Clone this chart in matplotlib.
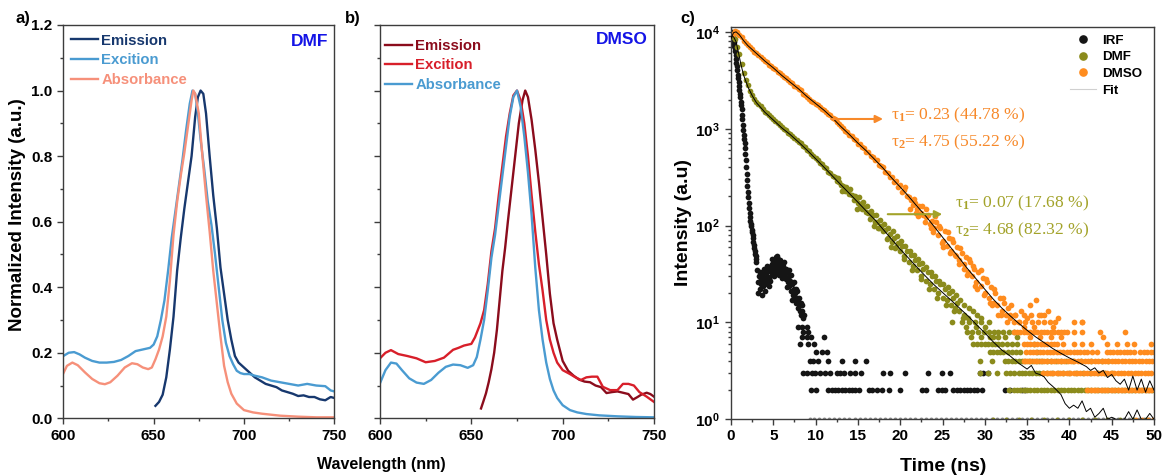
import numpy as np
import matplotlib.pyplot as plt
from matplotlib.ticker import MultipleLocator, LogLocator, NullFormatter
from matplotlib.lines import Line2D

plt.rcParams.update({
    'font.family': ['Liberation Sans', 'DejaVu Sans'],
    'font.weight': 'bold',
    'mathtext.fontset': 'custom',
    'mathtext.rm': 'Liberation Serif',
    'mathtext.it': 'Liberation Serif:italic',
    'mathtext.bf': 'Liberation Sans:bold',
    'axes.linewidth': 1.0,
})

###DATA###
# a) DMF spectra
wl_dmf_em = [651, 653, 655, 657, 659, 661, 663, 665, 667, 669, 671, 673, 674.5, 676, 677.5, 679, 681, 683, 685, 687,
             689, 691, 693, 695, 697, 700, 703, 706, 709, 712, 715, 718, 721, 724, 727, 730, 733, 736, 739, 742,
             745, 748, 750]
dmf_em = [0.038, 0.05, 0.072, 0.125, 0.21, 0.31, 0.45, 0.55, 0.64, 0.72, 0.80, 0.92, 0.98, 1.0, 0.99, 0.93, 0.80, 0.68, 0.58, 0.46,
          0.38, 0.30, 0.24, 0.19, 0.17, 0.155, 0.14, 0.125, 0.115, 0.105, 0.10, 0.095, 0.085, 0.08, 0.075, 0.068, 0.07, 0.065, 0.065, 0.058,
          0.055, 0.065, 0.062]
wl_dmf_ex = [600, 603, 606, 609, 612, 616, 620, 624, 628, 632, 636, 640, 644, 648, 650, 652, 654, 656, 658, 660,
             662, 664, 666, 668, 670, 671.5, 673, 674.5, 676, 678, 680, 682, 684, 686, 688, 690, 692, 694, 696, 698,
             700, 703, 706, 710, 715, 720, 725, 730, 735, 740, 745, 748, 750]
dmf_ex = [0.19, 0.20, 0.202, 0.195, 0.185, 0.175, 0.17, 0.17, 0.172, 0.178, 0.19, 0.205, 0.21, 0.215, 0.225, 0.25, 0.30, 0.36, 0.45, 0.55,
          0.63, 0.71, 0.79, 0.88, 0.96, 1.0, 0.99, 0.93, 0.85, 0.76, 0.66, 0.59, 0.50, 0.40, 0.30, 0.23, 0.19, 0.165, 0.145, 0.138,
          0.135, 0.135, 0.13, 0.125, 0.115, 0.11, 0.105, 0.10, 0.105, 0.10, 0.098, 0.085, 0.082]
wl_dmf_ab = [600, 602, 605, 608, 612, 616, 620, 623, 626, 630, 634, 638, 641, 644, 647, 649, 651, 653, 655, 657,
             659, 661, 663, 665, 667, 669, 671, 672, 673, 675, 677, 679, 681, 683, 685, 687, 689, 691, 693, 696,
             700, 705, 710, 720, 730, 740, 750]
dmf_ab = [0.137, 0.16, 0.17, 0.162, 0.14, 0.12, 0.107, 0.104, 0.11, 0.13, 0.155, 0.168, 0.165, 0.155, 0.15, 0.155, 0.18, 0.21, 0.25, 0.31,
          0.42, 0.56, 0.66, 0.74, 0.81, 0.89, 0.97, 1.0, 0.99, 0.93, 0.80, 0.68, 0.57, 0.45, 0.35, 0.25, 0.16, 0.11, 0.075, 0.045,
          0.025, 0.018, 0.014, 0.008, 0.005, 0.003, 0.003]

# b) DMSO spectra
wl_dmso_em = [655.3, 656.5, 658, 659.5, 661, 662.5, 664, 665.5, 667, 668.5, 670, 672, 674, 676, 678, 679.5, 681, 683, 685, 687,
              689, 691, 693, 695, 697, 700, 703, 706, 709, 712, 715, 718, 721, 724, 727, 730, 733, 736, 738.5, 741,
              743, 746, 748, 750]
dmso_em = [0.03, 0.05, 0.076, 0.11, 0.15, 0.20, 0.27, 0.36, 0.45, 0.52, 0.60, 0.70, 0.80, 0.90, 0.97, 1.0, 0.98, 0.91, 0.82, 0.72,
           0.61, 0.50, 0.38, 0.29, 0.24, 0.175, 0.145, 0.13, 0.118, 0.112, 0.11, 0.10, 0.095, 0.077, 0.08, 0.082, 0.078, 0.074, 0.057, 0.065,
           0.072, 0.078, 0.074, 0.066]
wl_dmso_ex = [600, 603, 606, 610, 615, 620, 625, 630, 635, 640, 643, 646, 650, 652, 655, 657, 659, 661, 663, 665,
              667, 669, 671, 673, 675, 677, 679, 681, 683, 685, 687, 689, 691, 693, 695, 697, 700, 704, 707, 710,
              713, 716, 719, 722, 726, 730, 733, 736, 739, 742, 746, 750]
dmso_ex = [0.183, 0.2, 0.208, 0.196, 0.19, 0.183, 0.171, 0.175, 0.185, 0.209, 0.215, 0.222, 0.227, 0.247, 0.29, 0.33, 0.41, 0.51, 0.58, 0.68,
           0.77, 0.86, 0.93, 0.985, 1.0, 0.97, 0.90, 0.80, 0.68, 0.57, 0.47, 0.39, 0.30, 0.24, 0.20, 0.17, 0.147, 0.135, 0.125, 0.117,
           0.125, 0.127, 0.127, 0.096, 0.086, 0.086, 0.105, 0.105, 0.10, 0.08, 0.066, 0.05]
wl_dmso_ab = [600, 603, 606, 609, 612, 616, 620, 624, 628, 632, 636, 640, 644, 648, 651, 653, 655, 657, 659, 661,
              663, 665, 667, 669, 671, 673, 675, 677, 679, 681, 683, 685, 687, 689, 691, 693, 695, 697, 700, 704,
              708, 713, 720, 730, 740, 750]
dmso_ab = [0.107, 0.147, 0.17, 0.167, 0.147, 0.122, 0.109, 0.105, 0.117, 0.139, 0.157, 0.164, 0.162, 0.154, 0.162, 0.187, 0.24, 0.30, 0.39, 0.49,
           0.56, 0.65, 0.74, 0.83, 0.92, 0.98, 1.0, 0.95, 0.86, 0.75, 0.62, 0.46, 0.33, 0.24, 0.17, 0.12, 0.085, 0.062, 0.04, 0.025,
           0.018, 0.013, 0.009, 0.006, 0.004, 0.003]

# c) decays - IRF
irf_t = [0.0, 0.05, 0.1, 0.15, 0.2, 0.25, 0.3, 0.35, 0.4, 0.45, 0.5, 0.55, 0.6, 0.65, 0.7, 0.75, 0.8, 0.85, 0.9, 0.95,
         1.0, 1.05, 1.1, 1.15, 1.2, 1.25, 1.3, 1.35, 1.4, 1.45, 1.5, 1.55, 1.6, 1.65, 1.7, 1.75, 1.8, 1.85, 1.9, 1.95,
         2.0, 2.05, 2.1, 2.15, 2.2, 2.25, 2.3, 2.35, 2.4, 2.45, 2.5, 2.55, 2.6, 2.65, 2.7, 2.75, 2.8, 2.85, 2.9, 2.95, 3.0]
irf_n = [7900, 9300, 10000, 9800, 9300, 8900, 8300, 7800, 7200, 6800, 6300, 5800, 5200, 4800, 4400, 4000, 3600, 3300, 3000, 2750,
         2500, 2300, 2100, 1900, 1750, 1600, 1400, 1250, 1100, 980, 870, 790, 710, 630, 550, 470, 400, 340, 295, 257,
         224, 195, 170, 151, 135, 123, 112, 105, 98, 91, 85, 79, 74, 68, 63, 59, 55, 51, 48, 45, 42]
irf_bump_t = [3.1, 3.2, 3.3, 3.4, 3.5, 3.6, 3.7, 3.8, 3.9, 4.0, 4.1, 4.2, 4.3, 4.4, 4.5, 4.6, 4.7, 4.8, 4.9, 5.0,
              5.1, 5.2, 5.3, 5.4, 5.5, 5.6, 5.7, 5.8, 5.9, 6.0, 6.1, 6.2, 6.3, 6.4, 6.5, 6.6, 6.7, 6.8, 6.9, 7.0,
              7.1, 7.2, 7.3, 7.4, 7.5, 7.6, 7.7, 7.8, 7.9, 8.0, 8.1, 8.2, 8.3, 8.4, 8.5, 8.6,
              3.25, 3.45, 3.65, 3.85, 4.05, 4.25, 4.45, 4.65, 4.85, 5.05, 5.25, 5.45, 5.65, 5.85, 6.05, 6.25, 6.45, 6.65,
              6.85, 7.05, 7.25, 7.45, 7.65, 7.85, 8.05, 8.25, 8.45]
irf_bump_n = [35, 26, 30, 22, 28, 25, 32, 24, 29, 27, 33, 25, 30, 36, 28, 34, 38, 31, 40, 35,
              44, 38, 47, 42, 36, 45, 39, 34, 41, 37, 32, 38, 30, 35, 28, 33, 26, 30, 24, 27,
              21, 25, 19, 22, 18, 20, 16, 18, 14, 16, 13, 15, 12, 13, 11, 12,
              20, 33, 19, 36, 21, 38, 24, 27, 45, 30, 33, 48, 31, 44, 29, 42, 36, 23,
              35, 31, 17, 26, 22, 21, 18, 16, 15]
irf_row9 = [7.96, 8.35, 8.94]
irf_row8 = [8.5, 9.1]
irf_row7 = [8.35, 8.94, 9.5, 11.0]
irf_row6 = [8.2, 9.1, 9.8]
irf_row5 = [10.1, 10.7, 11.3]
irf_row4 = [9.3, 9.7, 10.3, 11.5, 13.1, 14.7, 16.0]
irf_row3 = [8.55, 8.94, 9.53, 9.93, 10.5, 11.1, 11.7, 12.5, 12.9, 13.3, 14.1, 14.7, 15.4, 18.0, 18.8, 20.6, 23.3, 24.9,
            25.9, 29.4, 29.8, 30.4]
irf_row2 = [9.5, 10.1, 11.5, 11.9, 12.3, 12.7, 13.1, 13.5, 13.9, 14.3, 14.7, 15.1, 16.3, 16.7, 17.3, 17.9, 18.7, 20.0,
            22.6, 23.0, 24.5, 24.9, 25.3, 26.3, 26.7, 27.1, 27.5, 27.9, 28.3, 28.7, 29.1, 29.7, 32.4, 33.0, 34.4, 34.8]
irf_row1 = [9.3, 9.8, 10.4, 11.0, 11.6, 12.2, 12.8, 13.4, 14.0, 14.6, 15.2, 15.8, 16.4, 17.0, 17.6, 18.2, 18.8, 19.4,
            20.0, 20.6, 21.2, 21.8, 22.4, 23.0, 23.6, 24.2, 24.8, 25.4, 26.0, 26.6, 27.2, 27.8, 28.4, 29.0, 29.6, 30.2,
            30.8, 31.4, 32.0, 32.6, 33.2, 33.8, 34.4, 35.0, 35.6, 36.2, 36.8, 37.4, 38.0, 38.6, 39.2, 39.8, 40.4, 41.0,
            41.6, 42.2, 42.8, 43.4, 44.0, 44.6, 45.2, 45.8, 46.4, 47.0, 47.6, 48.2, 48.8, 49.4]

# c) decays - DMF
dmf_t = [0.0, 0.25, 0.5, 0.75, 1.0, 1.25, 1.5, 1.75, 2.0, 2.25, 2.5, 2.75, 3.0, 3.25, 3.5, 3.75, 4.0, 4.25, 4.5, 4.75,
         5.0, 5.25, 5.5, 5.75, 6.0, 6.25, 6.5, 6.75, 7.0, 7.25, 7.5, 7.75, 8.0, 8.25, 8.5, 8.75, 9.0, 9.25, 9.5, 9.75,
         10.0, 10.25, 10.5, 10.75, 11.0, 11.25, 11.5, 11.75, 12.0, 12.25, 12.5, 12.75, 13.0, 13.25, 13.5, 13.75, 14.0,
         14.25, 14.5, 14.75, 15.0, 15.25, 15.5, 15.75, 16.0, 16.25, 16.5, 16.75, 17.0, 17.25, 17.5, 17.75, 18.0, 18.25,
         18.5, 18.75, 19.0, 19.25, 19.5, 19.75, 20.0, 20.25, 20.5, 20.75, 21.0, 21.25, 21.5, 21.75, 22.0, 22.25, 22.5,
         22.75, 23.0, 23.25, 23.5, 23.75, 24.0, 24.25, 24.5, 24.75, 25.0, 25.25, 25.5, 25.75, 26.0, 26.25, 26.5, 26.75,
         27.0, 27.5, 28.0]
dmf_n = [8800, 9300, 8500, 7000, 5900, 4700, 3800, 3200, 2800, 2450, 2250, 2050, 1900, 1800, 1700, 1600, 1500, 1460, 1380, 1320,
         1250, 1200, 1150, 1100, 1040, 1000, 960, 900, 880, 840, 800, 760, 730, 710, 660, 650, 600, 590, 545, 520,
         495, 480, 445, 430, 405, 390, 360, 350, 325, 320, 290, 285, 262, 255, 230, 230, 210,
         205, 185, 190, 170, 165, 150, 155, 138, 135, 120, 128, 110, 108, 95, 100, 88, 90,
         75, 82, 68, 75, 60, 66, 55, 62, 48, 55, 42, 50, 38, 44, 35, 40, 30,
         36, 27, 33, 25, 30, 22, 27, 20, 25, 18, 22, 17, 20, 15, 18, 14, 16,
         13, 12, 11]
dmf_spread_t = [12.6, 13.1, 13.6, 14.1, 14.6, 15.1, 15.6, 16.1, 16.6, 17.1, 17.6, 18.1, 18.6, 19.1, 19.6, 20.1, 20.6, 21.1,
                21.6, 22.1, 22.6, 23.1, 23.6, 24.1, 24.6, 25.1, 25.6, 26.1, 26.6, 27.1, 27.6, 28.1, 28.6, 29.1, 29.6,
                16.4, 17.4, 18.4, 19.4, 20.4, 21.4, 22.4, 23.4, 24.4, 25.4, 26.4, 27.4, 14.9, 16.9, 18.9]
dmf_spread_n = [310, 230, 250, 240, 200, 195, 175, 160, 140, 130, 115, 105, 95, 88, 78, 70, 62, 55,
                50, 45, 41, 37, 33, 30, 27, 25, 23, 21, 19, 17, 15, 14, 13, 12, 11,
                118, 95, 72, 58, 45, 35, 28, 22, 18, 15, 13, 11, 150, 98, 60]
dmf_row10 = [26.1, 27.3, 28.1, 28.9, 29.5, 30.5]
dmf_row9 = [27.8, 29.0, 30.0]
dmf_row8 = [27.9, 28.5, 29.2, 29.9, 30.5, 31.1, 31.6, 32.2, 32.9, 33.5]
dmf_row7 = [28.4, 29.6, 30.6, 31.0, 31.6, 32.4, 33.8]
dmf_row6 = [28.6, 29.1, 29.6, 30.0, 30.4, 30.8, 31.2, 31.6, 32.0, 32.6, 33.2, 33.8, 35.8]
dmf_row5 = [30.6, 31.0, 31.4, 31.8, 32.2, 32.7, 33.2, 33.7, 34.2, 36.2]
dmf_row4 = [29.4, 30.8, 32.4, 32.8, 33.2, 33.6, 34.0, 34.4, 34.8, 35.2, 35.6, 36.0, 36.4, 36.8, 37.3, 37.8, 38.4,
            39.0, 39.6, 40.4, 41.4, 42.6, 43.8, 44.6]
dmf_row3 = [29.4, 30.4, 31.5, 32.5, 33.0, 33.5, 34.0, 34.4, 34.8, 35.2, 35.6, 36.0, 36.4, 36.9, 37.4, 38.0, 38.6,
            39.2, 40.0, 40.8, 41.6, 42.4, 43.4, 44.2, 45.0]
dmf_row2 = [32.9, 33.4, 33.8, 34.2, 34.6, 35.0, 35.4, 35.8, 36.2, 36.6, 37.0, 37.4, 37.8, 38.2, 38.6, 39.0, 39.4,
            39.8, 40.2, 40.6, 41.0, 41.4, 41.8, 42.2, 42.6, 43.0, 43.4, 43.8, 44.2, 44.6, 45.0, 45.4, 45.8, 46.2,
            46.6, 47.0, 47.4, 47.8, 48.2, 48.6, 49.0, 49.4, 49.8]
dmf_row1 = [31.0, 32.5, 34.0, 35.5, 37.0, 38.5, 40.0, 41.5, 43.0, 44.5, 46.0, 47.5, 49.0]

# c) decays - DMSO
dmso_t = [0.25, 0.5, 0.75, 1.0, 1.25, 1.5, 1.75, 2.0, 2.25, 2.5, 2.75, 3.0, 3.25, 3.5, 3.75, 4.0, 4.25, 4.5, 4.75, 5.0,
          5.25, 5.5, 5.75, 6.0, 6.25, 6.5, 6.75, 7.0, 7.25, 7.5, 7.75, 8.0, 8.25, 8.5, 8.75, 9.0, 9.25, 9.5, 9.75, 10.0,
          10.25, 10.5, 10.75, 11.0, 11.25, 11.5, 11.75, 12.0, 12.25, 12.5, 12.75, 13.0, 13.25, 13.5, 13.75, 14.0, 14.25,
          14.5, 14.75, 15.0, 15.25, 15.5, 15.75, 16.0, 16.25, 16.5, 16.75, 17.0, 17.25, 17.5, 17.75, 18.0, 18.25, 18.5,
          18.75, 19.0, 19.25, 19.5, 19.75, 20.0, 20.25, 20.5, 20.75, 21.0, 21.25, 21.5, 21.75, 22.0, 22.25, 22.5, 22.75,
          23.0, 23.25, 23.5, 23.75, 24.0, 24.25, 24.5, 24.75, 25.0, 25.25, 25.5, 25.75, 26.0, 26.25, 26.5, 26.75, 27.0,
          27.25, 27.5, 27.75, 28.0, 28.25, 28.5, 28.75, 29.0, 29.25, 29.5, 29.75, 30.0, 30.25, 30.5, 30.75, 31.0, 31.25,
          31.5, 31.75, 32.0, 32.25, 32.5, 32.75, 33.0]
dmso_n = [9600, 10100, 9900, 9200, 8800, 8000, 7700, 7300, 6900, 6700, 6200, 6050, 5700, 5500, 5300, 4950, 4850, 4600, 4450, 4200,
          4100, 3850, 3750, 3600, 3400, 3300, 3150, 3000, 2950, 2750, 2700, 2550, 2500, 2300, 2250, 2150, 2050, 1950, 1900, 1800,
          1750, 1680, 1600, 1560, 1480, 1420, 1380, 1280, 1250, 1170, 1120, 1060, 1020, 950, 930, 860, 850,
          780, 760, 700, 690, 640, 630, 580, 570, 520, 510, 470, 480, 420, 410, 400, 360, 350,
          320, 320, 280, 290, 250, 260, 220, 235, 200, 195, 185, 165, 170, 150, 160, 135, 130,
          122, 130, 105, 112, 95, 110, 80, 95, 70, 88, 62, 75, 55, 68, 50, 60, 44,
          52, 40, 47, 33, 42, 30, 36, 26, 33, 24, 29, 20, 26, 18, 23, 16, 20,
          15, 18, 13, 16, 12, 14, 11]
dmso_spread_t = [20.6, 21.1, 21.6, 22.1, 22.6, 23.1, 23.6, 24.1, 24.6, 25.1, 25.6, 26.1, 26.6, 27.1, 27.6, 28.1, 28.6,
                 29.1, 29.6, 30.1, 30.6, 31.1, 31.6, 32.1, 32.6, 33.1, 33.6, 34.0, 34.3, 34.6, 35.0, 35.3, 35.8, 36.1,
                 36.6, 37.5, 38.1, 38.6, 41.5, 21.9, 22.9, 23.9, 24.9, 25.9, 26.9, 27.9, 28.9, 29.9, 30.9, 31.9]
dmso_spread_n = [250, 150, 190, 125, 160, 150, 95, 125, 100, 60, 85, 72, 48, 58, 36, 45, 38,
                 22, 35, 28, 16, 22, 12, 18, 10, 15, 12, 10, 13, 9, 11, 15, 9, 17,
                 12, 13, 9, 11, 10, 135, 110, 85, 66, 52, 40, 31, 24, 19, 15, 12]
dmso_row12 = [33.0, 33.6, 34.6, 35.5, 36.4, 37.0]
dmso_row10 = [33.4, 34.0, 34.8, 35.6, 36.3, 37.0, 37.7, 38.3, 40.5, 41.5]
dmso_row8 = [33.4, 33.8, 34.2, 34.6, 35.0, 35.4, 35.8, 36.2, 36.6, 37.0, 37.4, 37.8, 38.2, 38.6, 39.0, 39.4, 39.7,
             40.5, 41.5, 43.6, 46.6]
dmso_row7 = [35.3, 36.5, 37.8, 39.0, 44.0]
dmso_row6 = [34.6, 35.0, 35.4, 35.8, 36.2, 36.6, 37.0, 37.4, 37.8, 38.2, 38.5, 39.3, 40.5, 41.5, 42.6, 44.4, 45.6,
             46.8, 47.6, 49.7]
dmso_row5 = [34.9, 35.3, 35.7, 36.1, 36.5, 36.9, 37.3, 37.7, 38.1, 38.5, 38.9, 39.3, 39.7, 40.1, 40.5, 40.9, 41.3,
             41.7, 42.1, 42.7, 43.3, 44.4, 44.8, 45.2, 45.6, 46.0, 46.4, 46.8, 47.2, 47.6, 48.4, 48.8, 49.2, 49.6, 50.0]
dmso_row4 = [34.6, 35.0, 35.4, 35.8, 36.2, 36.6, 37.0, 37.4, 37.8, 38.2, 38.6, 39.0, 39.4, 39.8, 40.2, 40.6, 41.0,
             41.4, 41.8, 42.2, 42.6, 43.0, 43.4, 43.8, 44.2, 44.6, 45.0, 45.4, 45.8, 46.2, 46.6, 47.0, 47.4, 47.8,
             48.2, 48.6, 49.0, 49.4, 49.8]
dmso_row3 = [36.9, 37.3, 37.7, 38.1, 38.5, 38.9, 39.3, 39.7, 40.1, 40.5, 40.9, 41.3, 41.7, 42.1, 42.5, 42.9, 43.3,
             43.7, 44.1, 44.5, 44.9, 45.3, 45.7, 46.1, 46.5, 46.9, 47.3, 47.7, 48.1, 48.5, 48.9, 49.3, 49.7]
dmso_row2 = [42.1, 42.5, 42.9, 43.3, 43.7, 44.1, 44.5, 44.9, 45.3, 45.7, 46.1, 46.5, 46.9, 47.3, 47.7, 48.1, 48.5,
             48.9, 49.3, 49.7]
dmso_row1 = [47.9, 48.6, 49.3, 49.9]

# c) fits
fit_dmf_t = [0, 0.3, 0.6, 0.9, 1.2, 1.5, 2, 2.5, 3, 4, 5, 6, 7, 8, 9, 10, 11, 12, 13, 14, 15, 16, 17, 18, 19, 20,
             21, 22, 23, 24, 25, 26, 27, 28, 29, 30, 31, 32, 33, 34, 35, 35.5, 36, 36.5, 37, 37.5, 38, 38.5, 39, 39.5,
             40, 40.5, 41, 41.5, 42, 42.5, 43, 43.5, 44, 44.5, 45, 45.5, 46, 46.5, 47, 47.5, 48, 48.5, 49, 49.5, 50]
fit_dmf = [8900, 8900, 7900, 6000, 4500, 3550, 2700, 2200, 1860, 1480, 1230, 1020, 870, 725, 600, 490, 400, 324, 263, 214,
           174, 141, 115, 91, 72, 57, 46, 37, 30, 24.5, 20.4, 17, 14.1, 11.7, 9.5, 7.8, 6.3, 5.2, 4.5, 3.8, 3.3,
           3.6, 3.0, 2.9, 2.75, 2.4, 2.2, 2.0, 1.8, 1.45, 1.3, 1.4, 1.3, 1.55, 1.2, 1.3, 1.05, 1.15, 1.3, 1.0, 1.05,
           1.0, 1.0, 1.0, 1.2, 1.0, 1.25, 1.0, 1.0, 1.15, 1.0]
fit_dmso_t = [0, 0.3, 0.6, 1, 1.5, 2, 3, 4, 5, 6, 7, 8, 9, 10, 11, 12, 13, 14, 15, 16, 17, 18, 19, 20, 21, 22, 23, 24,
              25, 26, 27, 28, 29, 30, 31, 32, 33, 34, 35, 36, 37, 38, 39, 40, 41, 42, 42.5, 43, 43.5, 44, 44.5, 45,
              45.5, 46, 46.5, 47, 47.5, 48, 48.5, 49, 49.5, 50]
fit_dmso = [8500, 9800, 10000, 9300, 8100, 7200, 6000, 5000, 4250, 3550, 3020, 2570, 2140, 1820, 1550, 1290, 1050, 870,
            710, 590, 480, 390, 310, 250, 200, 158, 126, 98, 76, 59, 46, 35.5, 28, 22, 17.4, 14.1, 11.7, 9.8, 8.3,
            7.1, 6.2, 5.4, 4.8, 4.3, 3.9, 3.5, 3.2, 3.4, 3.0, 3.2, 2.7, 2.9, 2.5, 2.3, 2.6, 2.0, 2.8, 2.0, 2.6, 1.9,
            2.5, 2.0]

##### PLOT #####
W, H = 1163, 475
def box(x0, y0, x1, y1):
    return [x0 / W, 1 - y1 / H, (x1 - x0) / W, (y1 - y0) / H]

fig = plt.figure(figsize=(W / 100, H / 100), dpi=100)
ax_a = fig.add_axes(box(63.3, 25, 334.3, 418.3))
ax_b = fig.add_axes(box(380, 25, 654, 418.3))
ax_c = fig.add_axes(box(731, 26.7, 1154, 419.3))

def style(ax):
    for s in ax.spines.values():
        s.set_color('#3c3c3c')
    ax.tick_params(which='both', direction='out', top=False, right=False, labelsize=11, width=1, color='#3c3c3c')
    ax.tick_params(which='major', length=4, pad=4)
    ax.tick_params(which='minor', length=2.5)

navy, lblue, salmon = '#17386e', '#4a9bd1', '#f6907a'
dred, red = '#8b0c1c', '#d81f2a'

# a) DMF
ax_a.plot(wl_dmf_em, dmf_em, color=navy, lw=1.7, label='Emission')
ax_a.plot(wl_dmf_ex, dmf_ex, color=lblue, lw=1.7, label='Excition')
ax_a.plot(wl_dmf_ab, dmf_ab, color=salmon, lw=1.7, label='Absorbance')
# b) DMSO
ax_b.plot(wl_dmso_em, dmso_em, color=dred, lw=1.7, label='Emission')
ax_b.plot(wl_dmso_ex, dmso_ex, color=red, lw=1.7, label='Excition')
ax_b.plot(wl_dmso_ab, dmso_ab, color=lblue, lw=1.7, label='Absorbance')

for ax in (ax_a, ax_b):
    style(ax)
    ax.set_xlim(600, 750)
    ax.set_ylim(0, 1.2)
    ax.xaxis.set_major_locator(MultipleLocator(50))
    ax.xaxis.set_minor_locator(MultipleLocator(25))
    ax.yaxis.set_major_locator(MultipleLocator(0.2))
    ax.yaxis.set_minor_locator(MultipleLocator(0.1))
ax_a.yaxis.set_major_formatter(lambda v, p: f'{v:.1f}')
ax_b.tick_params(labelleft=False)

leg_kw = dict(loc='upper left', frameon=False, fontsize=10.7, handlelength=1.8, handletextpad=0.25,
              labelspacing=0.38, borderpad=0, borderaxespad=0, labelcolor='linecolor')
ax_a.legend(bbox_to_anchor=(0.028, 0.978), **leg_kw)
ax_b.legend(bbox_to_anchor=(0.018, 0.965), **leg_kw)
ax_a.text(0.977, 0.9575, 'DMF', transform=ax_a.transAxes, ha='right', va='center', fontsize=12.5, color='#1414e6')
ax_b.text(0.979, 0.962, 'DMSO', transform=ax_b.transAxes, ha='right', va='center', fontsize=12.5, color='#1414e6')

# c) decays
c_irf, c_dmf, c_dmso = '#151515', '#8b8b1c', '#ff8c1e'
ms = 17

def rows(ax, levels, color, size=ms):
    for n, ts in levels:
        ax.scatter(ts, np.full(len(ts), n), s=size, color=color, linewidths=0, zorder=2)

ax_c.scatter(irf_t, irf_n, s=ms, color=c_irf, linewidths=0, zorder=2)
ax_c.scatter(irf_bump_t, irf_bump_n, s=ms, color=c_irf, linewidths=0, zorder=2)
rows(ax_c, [(9, irf_row9), (8, irf_row8), (7, irf_row7), (6, irf_row6), (5, irf_row5),
            (4, irf_row4), (3, irf_row3), (2, irf_row2)], c_irf)
rows(ax_c, [(1, irf_row1)], '#8a8a8a', size=8)

ax_c.scatter(dmf_t, dmf_n, s=ms, color=c_dmf, linewidths=0, zorder=2)
ax_c.scatter(dmf_spread_t, dmf_spread_n, s=ms, color=c_dmf, linewidths=0, zorder=2)
rows(ax_c, [(10, dmf_row10), (9, dmf_row9), (8, dmf_row8), (7, dmf_row7), (6, dmf_row6), (5, dmf_row5),
            (4, dmf_row4), (3, dmf_row3), (2, dmf_row2)], c_dmf)
rows(ax_c, [(1, dmf_row1)], c_dmf, size=8)

ax_c.scatter(dmso_t, dmso_n, s=ms, color=c_dmso, linewidths=0, zorder=2)
ax_c.scatter(dmso_spread_t, dmso_spread_n, s=ms, color=c_dmso, linewidths=0, zorder=2)
rows(ax_c, [(12, dmso_row12), (10, dmso_row10), (8, dmso_row8), (7, dmso_row7), (6, dmso_row6), (5, dmso_row5),
            (4, dmso_row4), (3, dmso_row3), (2, dmso_row2)], c_dmso)
rows(ax_c, [(1, dmso_row1)], c_dmso, size=8)

ax_c.plot(fit_dmf_t, fit_dmf, color='k', lw=0.7, zorder=3)
ax_c.plot(fit_dmso_t, fit_dmso, color='k', lw=0.7, zorder=3)

style(ax_c)
ax_c.set_yscale('log')
ax_c.set_xlim(0, 50)
ax_c.set_ylim(1, 11300)
ax_c.xaxis.set_major_locator(MultipleLocator(5))
ax_c.xaxis.set_minor_locator(MultipleLocator(2.5))
ax_c.yaxis.set_minor_locator(LogLocator(base=10, subs=np.arange(2, 10)))
ax_c.yaxis.set_minor_formatter(NullFormatter())
ax_c.set_yticks([1, 10, 100, 1000, 10000],
                labels=[r'$\mathbf{10^{0}}$', r'$\mathbf{10^{1}}$', r'$\mathbf{10^{2}}$',
                        r'$\mathbf{10^{3}}$', r'$\mathbf{10^{4}}$'])
ax_c.tick_params(axis='x', which='major', pad=3)

legend_elements = [Line2D([], [], ls='none', marker='o', ms=5.2, color=c_irf, label='IRF'),
                   Line2D([], [], ls='none', marker='o', ms=5.2, color=c_dmf, label='DMF'),
                   Line2D([], [], ls='none', marker='o', ms=5.2, color=c_dmso, label='DMSO'),
                   Line2D([], [], color='#d0d0d0', lw=0.8, label='Fit')]
ax_c.legend(handles=legend_elements, loc='upper left', bbox_to_anchor=(0.801, 0.98), frameon=False,
            fontsize=9.6, handlelength=2.0, handletextpad=0.45, labelspacing=0.32, borderpad=0, borderaxespad=0)

o_txt, g_txt = '#f7892a', '#a3a32a'
ax_c.annotate('', xy=(18.3, 1260), xytext=(11.5, 1260),
              arrowprops=dict(arrowstyle='-|>', color=o_txt, lw=1.5, mutation_scale=11))
ax_c.annotate('', xy=(25.3, 131), xytext=(18.2, 131),
              arrowprops=dict(arrowstyle='-|>', color=g_txt, lw=1.5, mutation_scale=11))
serif = ['Liberation Serif', 'DejaVu Serif']
tau_kw = dict(fontsize=12.6, family=serif, weight='normal', va='center')
ax_c.text(18.9, 1380, r'τ$_1$= 0.23 (44.78 %)', color=o_txt, **tau_kw)
ax_c.text(18.9, 728, r'τ$_2$= 4.75 (55.22 %)', color=o_txt, **tau_kw)
ax_c.text(26.5, 171, r'τ$_1$= 0.07 (17.68 %)', color=g_txt, **tau_kw)
ax_c.text(26.5, 90, r'τ$_2$= 4.68 (82.32 %)', color=g_txt, **tau_kw)

# labels
fig.text(18 / W, 1 - 215 / H, 'Normalized Intensity (a.u.)', rotation=90, ha='center', va='center', fontsize=13.5)
fig.text(381.5 / W, 1 - 465 / H, 'Wavelength (nm)', ha='center', va='center', fontsize=11.5)
fig.text(683 / W, 1 - 223 / H, 'Intensity (a.u)', rotation=90, ha='center', va='center', fontsize=14)
fig.text(943 / W, 1 - 466.7 / H, 'Time (ns)', ha='center', va='center', fontsize=14)
fig.text(16 / W, 1 - 18 / H, 'a)', ha='left', va='center', fontsize=12)
fig.text(345 / W, 1 - 18 / H, 'b)', ha='left', va='center', fontsize=12)
fig.text(680.5 / W, 1 - 18.3 / H, 'c)', ha='left', va='center', fontsize=12)

plt.savefig('out.png', dpi=100)
